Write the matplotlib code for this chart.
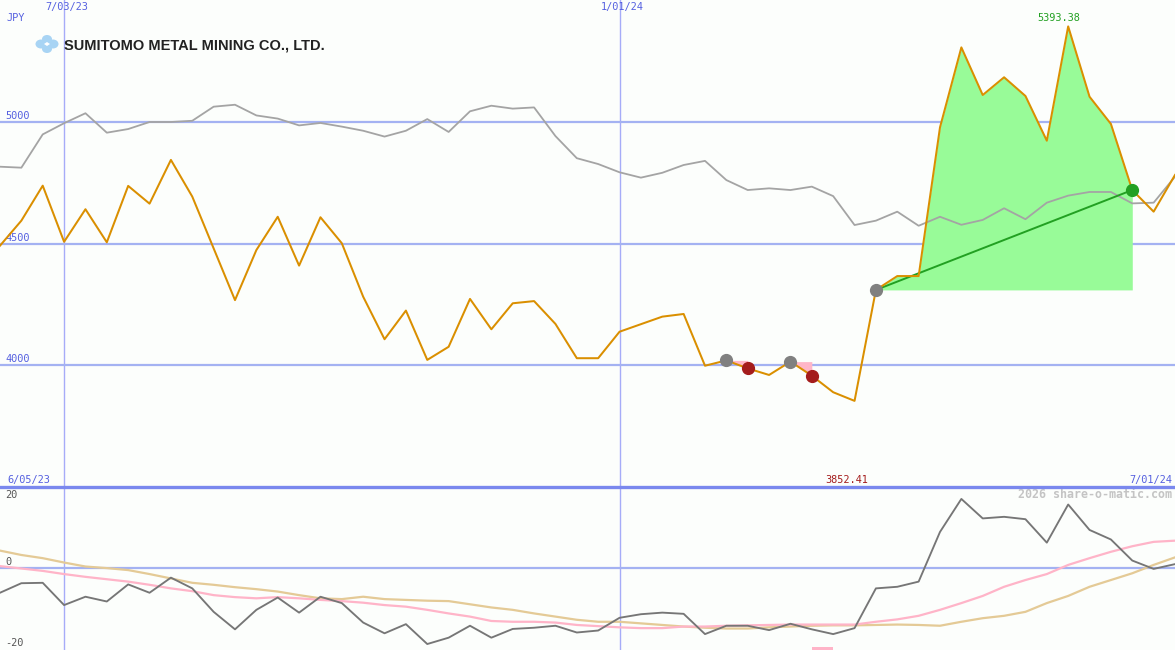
import matplotlib
matplotlib.use("Agg")
import matplotlib.pyplot as plt
from matplotlib.patches import Ellipse, Polygon
import numpy as np
import pandas as pd

# ---------------- data ----------------
dates = pd.date_range("2023-06-12", periods=56, freq="7D")

price = [4491, 4594, 4738, 4507, 4641, 4505, 4737, 4664, 4844, 4693,
         4480, 4267, 4473, 4610, 4409, 4608, 4501, 4281, 4106, 4224,
         4021, 4075, 4272, 4147, 4254, 4263, 4169, 4028, 4028, 4137,
         4168, 4199, 4210, 3997, 4019, 3986, 3959, 4014, 3956, 3888,
         3852.41, 4309, 4366, 4366, 4978, 5307, 5111, 5184, 5107, 4923,
         5393.38, 5104, 4992, 4720, 4631, 4782]

ma = [4816, 4812, 4949, 4995, 5036, 4956, 4971, 5000, 5000, 5005,
      5063, 5071, 5027, 5014, 4986, 4996, 4981, 4964, 4940, 4964,
      5012, 4959, 5044, 5067, 5055, 5060, 4942, 4851, 4827, 4793,
      4771, 4791, 4823, 4840, 4761, 4720, 4727, 4720, 4734, 4695,
      4576, 4594, 4631, 4573, 4610, 4577, 4597, 4645, 4600, 4668,
      4697, 4712, 4712, 4665, 4668, 4775]

osc = [-6.3, -3.9, -3.8, -9.4, -7.3, -8.5, -4.2, -6.3, -2.5, -5.2,
       -11.1, -15.5, -10.6, -7.5, -11.3, -7.3, -8.9, -13.8, -16.5, -14.2,
       -19.2, -17.6, -14.6, -17.6, -15.4, -15.1, -14.6, -16.3, -15.8, -12.6,
       -11.7, -11.3, -11.6, -16.7, -14.6, -14.6, -15.7, -14.1, -15.5, -16.7,
       -15.2, -5.2, -4.8, -3.5, 9.0, 17.3, 12.4, 12.8, 12.2, 6.3,
       15.9, 9.5, 7.1, 1.8, -0.3, 0.9]

osc_pink = [0.4, -0.2, -0.8, -1.6, -2.3, -2.9, -3.5, -4.3, -5.2, -5.9,
            -6.9, -7.4, -7.7, -7.4, -7.7, -8.1, -8.4, -8.8, -9.4, -9.8,
            -10.6, -11.5, -12.3, -13.4, -13.6, -13.6, -13.8, -14.4, -14.7, -15.0,
            -15.2, -15.2, -14.8, -14.8, -14.6, -14.5, -14.4, -14.3, -14.3, -14.3,
            -14.3, -13.6, -13.0, -12.1, -10.6, -8.9, -7.1, -4.8, -3.1, -1.6,
            0.7, 2.4, 4.0, 5.4, 6.5, 6.8]

osc_tan = [4.3, 3.2, 2.4, 1.3, 0.3, -0.1, -0.6, -1.6, -2.7, -3.8,
           -4.3, -4.9, -5.4, -6.0, -6.9, -7.7, -7.9, -7.3, -7.9, -8.1,
           -8.3, -8.4, -9.2, -10.0, -10.6, -11.5, -12.3, -13.1, -13.6, -13.6,
           -14.0, -14.4, -14.8, -15.1, -15.3, -15.3, -15.0, -14.8, -14.6, -14.5,
           -14.5, -14.4, -14.3, -14.4, -14.6, -13.6, -12.7, -12.1, -11.1, -8.9,
           -7.1, -4.8, -3.1, -1.4, 0.7, 2.6]

# trades: (entry index, exit index)
loss_trades = [(34, 35), (37, 38)]
win_trade = (41, 53)
signal_bar = 38

price_levels = [4000, 4500, 5000]
osc_levels = [-20, 0, 20]
date_lines = ["2023-07-03", "2024-01-01"]
title = "SUMITOMO METAL MINING CO., LTD."
currency = "JPY"
start_label = "6/05/23"
end_label = "7/01/24"
credit = "2026 share-o-matic.com"

# ---------------- style ----------------
W, H = 1175, 650
BG = "#fcfefc"
GRID = "#a4b2f2"
SEP = "#7a88ee"
VLINE = "#a6acf8"
LABEL = "#5560e0"
ORANGE = "#da8f00"
GRAY = "#a4a4a4"
MONO = "DejaVu Sans Mono"
FS = 7.4

fig = plt.figure(figsize=(W / 100, H / 100), dpi=100, facecolor=BG)
split = 487
ax = fig.add_axes([0, (H - split) / H, 1, split / H], facecolor=BG)
ax2 = fig.add_axes([0, 0, 1, (H - split) / H], facecolor=BG)

x = np.arange(len(price))
idx = {d: int(np.where(dates == pd.Timestamp(d))[0][0]) for d in date_lines}

for a in (ax, ax2):
    a.set_xlim(0, len(price) - 1)
    a.axis("off")
    for d in date_lines:
        a.axvline(idx[d], color=VLINE, lw=1.0, zorder=1)

ax.set_ylim(3498, 5502)
ax2.set_ylim(-20.7, 20.3)

# main panel gridlines
for lv in price_levels:
    ax.axhline(lv, color=GRID, lw=1.6, zorder=1)
    ax.annotate(str(lv), xy=(0, lv), xycoords=("axes fraction", "data"),
                xytext=(5, 1), textcoords="offset pixels", fontsize=FS,
                family=MONO, color=LABEL, va="bottom", ha="left")

price_a = np.array(price, dtype=float)

# winning trade fill
e, s = win_trade
ax.fill_between(x[e:s + 1], price_a[e], price_a[e:s + 1], color="#98fb98",
                lw=0, zorder=2)
ax.plot([x[e], x[s]], [price_a[e], price_a[s]], color="#22a022", lw=1.4,
        zorder=4)

# losing trade fills
for e2, s2 in loss_trades:
    ax.fill_between(x[e2:s2 + 1], price_a[e2], price_a[e2:s2 + 1],
                    color="#ffb6c8", lw=0, zorder=2)

ax.plot(x, ma, color=GRAY, lw=1.3, zorder=3)
ax.plot(x, price_a, color=ORANGE, lw=1.45, zorder=4)

# trade markers
for e2, s2 in loss_trades:
    ax.plot(x[e2], price_a[e2], "o", ms=8.5, color="#808080", zorder=5)
    ax.plot(x[s2], price_a[s2], "o", ms=8.5, color="#a41c1c", zorder=5)
ax.plot(x[e], price_a[e], "o", ms=8.5, color="#808080", zorder=5)
ax.plot(x[s], price_a[s], "o", ms=8.5, color="#22a022", zorder=5)

# max / min labels
imax = int(np.argmax(price_a))
imin = int(np.argmin(price_a))
ax.annotate(f"{price_a[imax]:.2f}", xy=(x[imax], price_a[imax]),
            xytext=(-9, 3), textcoords="offset pixels", fontsize=FS,
            family=MONO, color="#22a022", ha="center", va="bottom")
ax.annotate(f"{price_a[imin]:.2f}", xy=(x[imin], 0), xycoords=("data", "axes fraction"),
            xytext=(-8, 2), textcoords="offset pixels", fontsize=FS,
            family=MONO, color="#a41c1c", ha="center", va="bottom")

# date labels on top
for d in date_lines:
    lab = f"{dates[idx[d]].month}/{dates[idx[d]].day:02d}/{dates[idx[d]].year % 100:02d}"
    ax.annotate(lab, xy=(idx[d], 1), xycoords=("data", "axes fraction"),
                xytext=(3, -2), textcoords="offset pixels", fontsize=FS,
                family=MONO, color=LABEL, ha="center", va="top")
ax.annotate(start_label, xy=(0, 0), xycoords="axes fraction", xytext=(7, 2),
            textcoords="offset pixels", fontsize=FS, family=MONO, color=LABEL,
            ha="left", va="bottom")
ax.annotate(end_label, xy=(1, 0), xycoords="axes fraction", xytext=(-3, 2),
            textcoords="offset pixels", fontsize=FS, family=MONO, color=LABEL,
            ha="right", va="bottom")
ax.annotate(currency, xy=(0, 1), xycoords="axes fraction", xytext=(6, -13),
            textcoords="offset pixels", fontsize=FS, family=MONO, color=LABEL,
            ha="left", va="top")

# title and logo
fig.text(64 / W, 1 - 45 / H, title, fontsize=10.5, fontweight="bold",
         family="Liberation Sans", color="#222222", ha="left", va="center")
logo_c = (47, 44)
for dx, dy, w, h in [(-6, 0, 11, 9), (6, 0, 11, 9), (0, -5, 10, 8), (0, 5, 10, 8)]:
    fig.add_artist(Ellipse(((logo_c[0] + dx) / W, 1 - (logo_c[1] + dy) / H),
                           w / W, h / H, transform=fig.transFigure,
                           color="#a8d4f4", lw=0))
fig.add_artist(Polygon([((logo_c[0] - 3) / W, 1 - logo_c[1] / H),
                        (logo_c[0] / W, 1 - (logo_c[1] - 2) / H),
                        ((logo_c[0] + 3) / W, 1 - logo_c[1] / H),
                        (logo_c[0] / W, 1 - (logo_c[1] + 2) / H)],
                       closed=True, transform=fig.transFigure,
                       color="white", lw=0))

# separator
ax2.axhline(ax2.get_ylim()[1], color=SEP, lw=2.4, zorder=6, clip_on=False)

# lower panel
ax2.axhline(0, color=GRID, lw=1.6, zorder=1)
for lv in osc_levels:
    off = {20: -12, 0: 1, -20: -1}[lv]
    ax2.annotate(str(lv), xy=(0, lv), xycoords=("axes fraction", "data"),
                 xytext=(5, off), textcoords="offset pixels",
                 fontsize=FS, family=MONO, color="#555555", va="bottom", ha="left")

ax2.plot(x, osc_tan, color="#e4ca96", lw=1.6, zorder=2)
ax2.plot(x, osc_pink, color="#ffb4c8", lw=1.6, zorder=2)
ax2.plot(x, osc, color="#767676", lw=1.35, zorder=3)
ax2.bar([x[signal_bar]], [0.8], bottom=-20.7, width=1.0, align="edge",
        color="#ffb4c8", lw=0, zorder=2)

ax2.annotate(credit, xy=(1, 1), xycoords="axes fraction", xytext=(-3, -14),
             textcoords="offset pixels", fontsize=8.4, family=MONO,
             fontweight="bold", color="#c4c4c4", ha="right", va="bottom")

fig.savefig("out.png", dpi=100, facecolor=BG)
